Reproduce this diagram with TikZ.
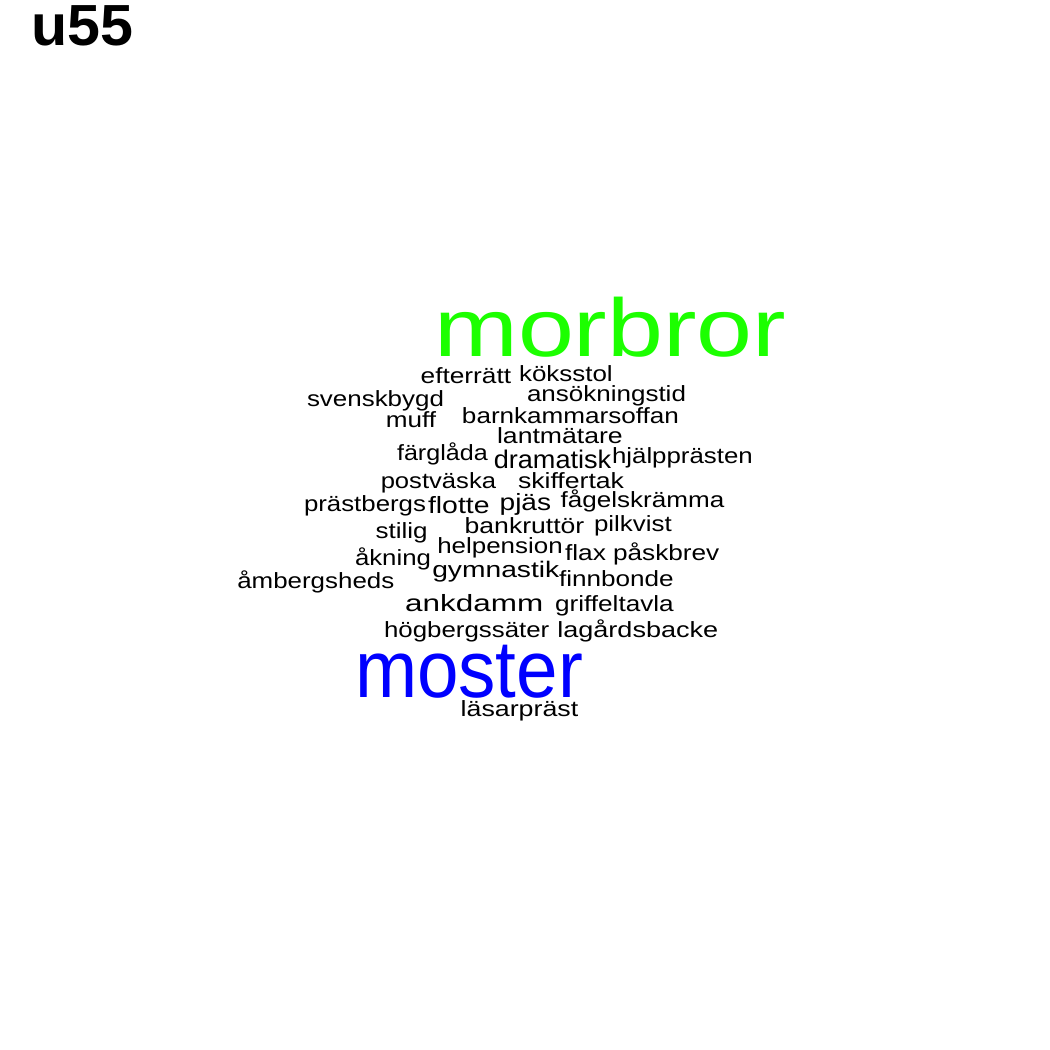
\documentclass[tikz,border=0pt]{standalone}
\usepackage{fontspec}
\usepackage{graphicx}
\setmainfont{Liberation Sans}
\definecolor{wgreen}{RGB}{28,255,0}
\definecolor{wblue}{RGB}{0,0,255}
\newcommand\wcw[2]{\resizebox{#1pt}{\height}{#2}}
\tikzset{
  word/.style={inner sep=0pt, outer sep=0pt, anchor=base, text=black},
  small/.style={word, font=\fontsize{22}{22}\selectfont},
  mid/.style={word, font=\fontsize{23.5}{23.5}\selectfont},
}
\begin{document}
\begin{tikzpicture}[x=1pt,y=-1pt]
\useasboundingbox[fill=white] (0,0) rectangle (1050,1050);
\node[word, font=\bfseries\fontsize{58}{58}\selectfont] (t) at (82.5,45) {\wcw{102}{u55}};
\node[word, text=wgreen, font=\fontsize{82}{82}\selectfont] (w1) at (610.3,356) {\wcw{352}{morbror}};
\node[word, text=wblue, font=\fontsize{81}{81}\selectfont] (w2) at (469,697) {\wcw{228}{moster}};
\node[small] (w3) at (465.9,383) {\wcw{90.5}{efterrätt}};
\node[small] (w4) at (565.9,381.7) {\wcw{93.7}{köksstol}};
\node[small] (w5) at (375.5,406) {\wcw{137}{svenskbygd}};
\node[small] (w6) at (606.5,401.7) {\wcw{159}{ansökningstid}};
\node[small] (w7) at (410.9,427) {\wcw{50.3}{muff}};
\node[small] (w8) at (570.5,423.3) {\wcw{217}{barnkammarsoffan}};
\node[small] (w9) at (559.9,443.3) {\wcw{125.7}{lantmätare}};
\node[small] (w10) at (442.4,460) {\wcw{90.7}{färglåda}};
\node[word, font=\fontsize{25.5}{25.5}\selectfont] (w11) at (552.5,468.3) {\wcw{117.5}{dramatisk}};
\node[small] (w12) at (682.4,463) {\wcw{140.7}{hjälpprästen}};
\node[small] (w13) at (438.4,488) {\wcw{115.3}{postväska}};
\node[small] (w14) at (571,488.3) {\wcw{106}{skiffertak}};
\node[small] (w15) at (365,511) {\wcw{122}{prästbergs}};
\node[mid] (w16) at (458.8,513) {\wcw{61.5}{flotte}};
\node[mid] (w17) at (525.4,510) {\wcw{51.5}{pjäs}};
\node[small] (w18) at (642.5,507) {\wcw{163.6}{fågelskrämma}};
\node[small] (w19) at (401.7,538.3) {\wcw{52}{stilig}};
\node[small] (w20) at (524.5,533.3) {\wcw{119.6}{bankruttör}};
\node[small] (w21) at (632.9,531.7) {\wcw{77.7}{pilkvist}};
\node[small] (w22) at (500,553.3) {\wcw{125.4}{helpension}};
\node[small] (w23) at (585.5,560) {\wcw{41}{flax}};
\node[small] (w24) at (666.2,560) {\wcw{106.3}{påskbrev}};
\node[small] (w25) at (393,565) {\wcw{76}{åkning}};
\node[word, font=\fontsize{22.5}{22.5}\selectfont] (w26) at (495.8,577) {\wcw{127}{gymnastik}};
\node[small] (w27) at (616.4,586) {\wcw{114.7}{finnbonde}};
\node[small] (w28) at (315.8,588.3) {\wcw{157}{åmbergsheds}};
\node[mid] (w29) at (474.2,611.7) {\wcw{138}{ankdamm}};
\node[small] (w30) at (614.4,611.7) {\wcw{118.7}{griffeltavla}};
\node[small] (w31) at (466.7,637.5) {\wcw{165.3}{högbergssäter}};
\node[small] (w32) at (637.8,637) {\wcw{161}{lagårdsbacke}};
\node[small] (w33) at (519.5,716.7) {\wcw{117.6}{läsarpräst}};
\end{tikzpicture}
\end{document}
